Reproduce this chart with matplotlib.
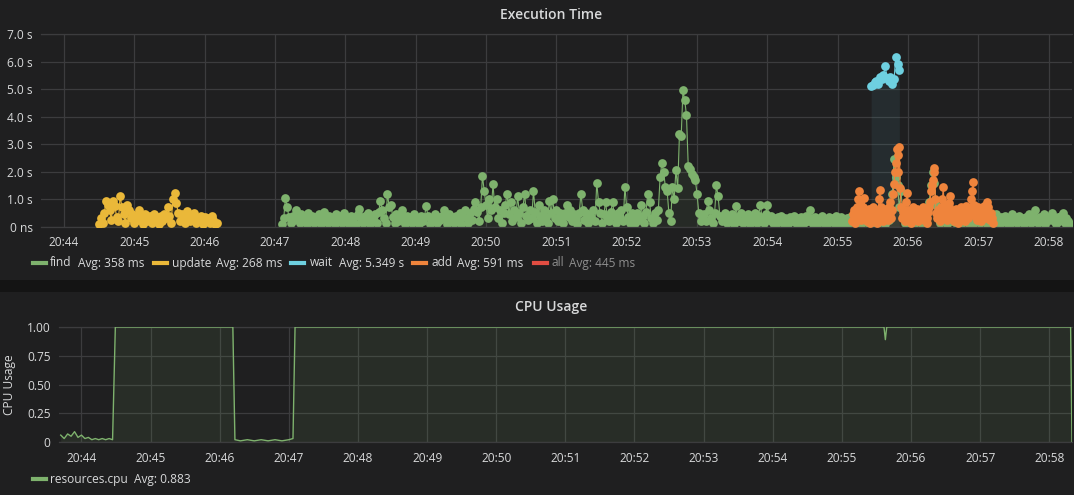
import numpy as np
import matplotlib
matplotlib.use("Agg")
import matplotlib.pyplot as plt
from matplotlib.lines import Line2D
from matplotlib.patches import Rectangle

plt.rcParams["font.family"] = ["Open Sans", "DejaVu Sans"]

# time is minutes past 20:00; each query series is sampled on a fixed clock
find_start, find_step = 47.10, 0.025
find_s = [
    # 20:47
    0.1, 0.3, 1.05, 0.7, 0.35, 0.15, 0.4, 0.25, 0.6, 0.3, 0.12, 0.45, 0.2, 0.35, 0.1, 0.5, 0.25, 0.4, 0.15, 0.35,
    0.2, 0.45, 0.1, 0.3, 0.55, 0.25, 0.12, 0.4, 0.2, 0.35, 0.1, 0.45, 0.25, 0.4, 0.15, 0.5, 0.2, 0.35, 0.1, 0.4,
    # 20:48
    0.2, 0.35, 0.1, 0.45, 0.65, 0.3, 0.15, 0.4, 0.2, 0.5, 0.1, 0.35, 0.25, 0.45, 0.15, 0.55, 0.95, 0.6, 0.3, 0.15,
    1.2, 0.7, 0.8, 0.35, 0.12, 0.45, 0.2, 0.4, 0.6, 0.25, 0.1, 0.4, 0.2, 0.35, 0.12, 0.45, 0.25, 0.3, 0.1, 0.4,
    # 20:49
    0.2, 0.35, 0.75, 0.4, 0.1, 0.3, 0.2, 0.45, 0.12, 0.35, 0.25, 0.4, 0.6, 0.3, 0.1, 0.45, 0.2, 0.35, 0.15, 0.4,
    0.25, 0.5, 0.1, 0.35, 0.6, 0.3, 0.15, 0.5, 0.25, 0.65, 0.9, 0.55, 0.2, 0.7, 1.85, 1.3, 0.8, 0.3, 1.0, 0.6,
    # 20:50
    1.55, 0.7, 1.0, 0.3, 0.6, 0.15, 0.5, 0.8, 1.2, 0.45, 0.9, 0.2, 0.6, 0.35, 1.1, 0.5, 0.15, 0.7, 1.2, 0.4,
    0.25, 0.6, 0.3, 1.3, 0.55, 0.15, 0.8, 0.4, 0.2, 0.6, 0.35, 0.15, 0.95, 0.5, 1.0, 0.3, 0.6, 0.2, 0.5, 0.35,
    # 20:51
    0.15, 0.5, 0.8, 0.35, 0.6, 0.2, 0.45, 0.3, 0.1, 0.5, 1.2, 0.6, 0.25, 0.5, 0.15, 0.4, 0.3, 0.6, 0.2, 1.6,
    0.9, 0.5, 0.15, 0.45, 0.9, 0.35, 0.2, 0.55, 0.9, 0.4, 0.15, 0.5, 0.3, 0.6, 0.2, 1.45, 0.7, 0.35, 0.15, 0.5,
    # 20:52
    0.3, 0.15, 0.5, 0.25, 0.8, 0.4, 0.15, 0.55, 1.2, 0.9, 0.3, 0.15, 0.5, 0.25, 0.6, 1.8, 2.3, 2.0, 1.45, 1.3,
    0.5, 0.2, 1.45, 1.0, 2.05, 1.4, 3.35, 3.3, 4.95, 4.6, 4.05, 2.2, 2.1, 1.9, 1.8, 1.7, 1.2, 0.5, 0.2, 0.4,
    # 20:53
    0.45, 0.2, 0.95, 0.6, 0.3, 0.15, 0.5, 1.5, 1.1, 0.4, 0.2, 0.35, 0.5, 0.15, 0.4, 0.25, 0.45, 0.1, 0.75, 0.35,
    0.2, 0.5, 0.15, 0.4, 0.3, 0.45, 0.1, 0.35, 0.25, 0.5, 0.15, 0.4, 0.8, 0.3, 0.15, 0.45, 0.8, 0.25, 0.4, 0.12,
    # 20:54
    0.3, 0.1, 0.35, 0.2, 0.4, 0.12, 0.3, 0.25, 0.1, 0.35, 0.2, 0.4, 0.15, 0.3, 0.1, 0.35, 0.25, 0.12, 0.4, 0.2,
    0.6, 0.3, 0.1, 0.35, 0.2, 0.12, 0.3, 0.4, 0.15, 0.25, 0.1, 0.35, 0.2, 0.3, 0.12, 0.4, 0.2, 0.1, 0.35, 0.25,
    # 20:55
    0.15, 0.3, 0.1, 0.35, 0.2, 0.4, 0.12, 0.3, 0.25, 0.1, 0.35, 0.2, 0.4, 0.15, 0.3, 0.1, 0.35, 0.2, 0.3, 0.12,
    0.4, 0.2, 0.3, 0.1, 0.35, 0.25, 0.6, 1.2, 2.45, 1.8, 1.5, 0.7, 1.3, 0.4, 0.15, 0.35, 0.2, 0.1, 0.4, 0.25,
    # 20:56
    0.15, 0.35, 0.2, 0.4, 0.1, 0.3, 0.25, 0.5, 0.9, 1.5, 2.0, 1.6, 0.8, 0.3, 0.15, 0.4, 0.2, 0.35, 0.1, 0.3,
    0.45, 0.2, 0.35, 0.12, 0.4, 0.25, 0.1, 0.35, 0.2, 0.3, 0.15, 0.4, 0.2, 0.1, 0.35, 0.25, 0.4, 0.12, 0.3, 0.2,
    # 20:57
    0.35, 0.1, 0.4, 0.2, 0.3, 0.12, 0.45, 0.25, 0.1, 0.35, 0.2, 0.4, 0.15, 0.3, 0.1, 0.45, 0.25, 0.35, 0.12, 0.4,
    0.2, 0.3, 0.1, 0.35, 0.25, 0.45, 0.15, 0.4, 0.6, 0.3, 0.12, 0.35, 0.2, 0.45, 0.1, 0.3, 0.25, 0.4, 0.5, 0.2,
    # 20:58
    0.1, 0.35, 0.2, 0.4, 0.5, 0.15, 0.3, 0.2, 0.1,
]

update_start, update_step = 44.50, 0.025
update_s = [
    0.1, 0.3, 0.15, 0.5, 0.95, 0.8, 0.6, 0.25, 0.95, 0.75, 0.35, 0.2, 1.13, 0.7, 0.45, 0.15, 0.8, 0.6, 0.3, 0.45,
    0.15, 0.4, 0.25, 0.6, 0.35, 0.1, 0.45, 0.2, 0.35, 0.4, 0.15, 0.45, 0.25, 0.35, 0.1, 0.4, 0.2, 0.45, 0.3, 0.7,
    0.4, 0.15, 1.0, 1.24, 0.85, 0.5, 0.2, 0.45, 0.3, 0.15, 0.58, 0.35, 0.2, 0.4, 0.5, 0.15, 0.3, 0.25, 0.4, 0.1,
    0.35, 0.2, 0.3, 0.15, 0.4, 0.25, 0.1, 0.15,
]

wait_start, wait_step = 55.475, 0.025
wait_s = [5.1, 5.15, 5.25, 5.3, 5.2, 5.45, 5.35, 5.5, 5.85, 5.4, 5.3, 5.45, 5.2, 5.35, 6.15, 5.9, 5.7]

add_start, add_step = 55.20, 0.0125
add_s = [
    0.2, 0.45, 0.3, 0.6, 0.15, 0.5, 0.7, 1.0, 1.3, 0.8, 0.4, 0.25, 0.55, 0.7, 1.03, 0.6, 0.35, 0.2, 0.5, 0.65,
    0.3, 0.15, 0.55, 0.4, 0.7, 0.25, 0.5, 0.6, 0.3, 0.15, 0.45, 1.0, 1.35, 0.7, 0.4, 0.6, 0.2, 0.5, 0.35, 0.65,
    0.45, 0.25, 0.7, 0.9, 0.5, 0.3, 0.6, 1.2, 1.56, 2.0, 2.3, 2.84, 2.6, 2.0, 2.9, 1.4, 0.7, 0.3, 0.55, 0.4,
    0.2, 0.6, 0.9, 1.23, 0.6, 0.35, 0.5, 0.15, 0.6, 0.4, 0.7, 0.25, 0.5, 0.35, 0.65, 0.2, 0.45, 0.6, 0.3, 0.55,
    0.4, 0.7, 0.25, 0.5, 0.6, 0.3, 0.15, 0.55, 0.7, 0.9, 1.3, 1.5, 1.7, 2.13, 2.0, 1.0, 0.5, 0.3, 0.6, 0.4,
    0.2, 0.55, 0.7, 1.0, 1.43, 0.8, 0.4, 0.6, 0.25, 0.5, 0.7, 0.85, 1.1, 0.6, 0.35, 0.55, 0.2, 0.45, 0.65, 0.3,
    0.5, 0.15, 0.6, 0.4, 0.7, 0.25, 0.55, 0.35, 0.6, 0.2, 0.75, 0.5, 0.3, 0.6, 0.45, 0.7, 1.0, 1.3, 1.62, 0.8,
    0.4, 0.6, 0.25, 0.5, 0.7, 0.35, 0.55, 0.2, 0.65, 0.4, 0.75, 0.5, 0.3, 0.6, 0.88, 0.7, 0.45, 0.25, 0.5, 0.3,
    0.15,
]

cpu_t = [43.70, 43.75, 43.80, 43.85, 43.90, 43.95, 44.00, 44.05, 44.10, 44.15, 44.20, 44.25, 44.30, 44.35,
         44.40, 44.45, 44.49, 46.19, 46.22, 46.30, 46.40, 46.50, 46.60, 46.70, 46.80, 46.90, 47.00, 47.06,
         47.09, 55.61, 55.63, 55.65, 58.31, 58.33]
cpu_v = [0.06, 0.03, 0.07, 0.05, 0.09, 0.04, 0.06, 0.03, 0.04, 0.02, 0.03, 0.02, 0.03, 0.02, 0.03, 0.02,
         1.0, 1.0, 0.02, 0.01, 0.02, 0.01, 0.02, 0.01, 0.02, 0.01, 0.02, 0.03, 1.0, 1.0, 0.89, 1.0, 1.0, 0.0]

minutes = list(range(44, 59))
time_labels = [f"20:{m:02d}" for m in minutes]
exec_ticks = [0, 1, 2, 3, 4, 5, 6, 7]
exec_labels = ["0 ns", "1.0 s", "2.0 s", "3.0 s", "4.0 s", "5.0 s", "6.0 s", "7.0 s"]
cpu_ticks = [0, 0.25, 0.5, 0.75, 1.0]
cpu_labels = ["0", "0.25", "0.50", "0.75", "1.00"]

legend_names = ["find", "update", "wait", "add", "all"]
legend_avgs = ["Avg: 358 ms", "Avg: 268 ms", "Avg: 5.349 s", "Avg: 591 ms", "Avg: 445 ms"]
cpu_name, cpu_avg = "resources.cpu", "Avg: 0.883"

# grafana dark theme
BG = "#1f1f20"
GAP = "#141414"
GRID = "#3c3c3e"
TXT = "#d8d9da"
GREEN, YELLOW, CYAN, ORANGE, RED = "#7eb26d", "#eab839", "#6ed0e0", "#ef843c", "#e24d42"
W, H = 1074, 495


def fx(px):
    return px / W


def fy(py):
    return 1 - py / H


def style_axes(ax, yticks, ylabels):
    ax.set_facecolor(BG)
    ax.set_xlim(43.675, 58.33)
    ax.set_xticks(minutes)
    ax.set_xticklabels(time_labels)
    ax.set_yticks(yticks)
    ax.set_yticklabels(ylabels)
    ax.set_ylim(yticks[0], yticks[-1])
    ax.grid(True, color=GRID, lw=0.9)
    ax.set_axisbelow(True)
    for side in ("left", "right"):
        ax.spines[side].set_visible(False)
    for side in ("top", "bottom"):
        ax.spines[side].set_color(GRID)
        ax.spines[side].set_linewidth(0.9)
    ax.tick_params(length=0, colors=TXT, labelsize=8.6)
    ax.tick_params(axis="y", pad=6)
    ax.tick_params(axis="x", pad=7)


fig = plt.figure(figsize=(W / 100, H / 100), dpi=100, facecolor=BG)
fig.patches.append(Rectangle((0, fy(292)), 1, fy(280) - fy(292), transform=fig.transFigure,
                             facecolor=GAP, edgecolor="none", zorder=0))

# --- Execution Time panel
ax1 = fig.add_axes([fx(41), fy(226.7), fx(1072) - fx(41), fy(34) - fy(226.7)])
style_axes(ax1, exec_ticks, exec_labels)
series = [(find_start, find_step, find_s, GREEN), (update_start, update_step, update_s, YELLOW),
          (wait_start, wait_step, wait_s, CYAN), (add_start, add_step, add_s, ORANGE)]
for z, (t0, dt, vals, col) in enumerate(series):
    t = t0 + dt * np.arange(len(vals))
    ax1.fill_between(t, vals, color=col, alpha=0.08, lw=0, zorder=2 + z)
    ax1.plot(t, vals, color=col, lw=0.8, marker="o", ms=6.3, mew=0, zorder=2 + z)

fig.text(fx(551), fy(15), "Execution Time", color=TXT, fontsize=10, fontweight="semibold",
         ha="center", va="center")

leg_cols = [GREEN, YELLOW, CYAN, ORANGE, RED]
dash_x = [33, 154, 291, 413, 534]
name_x = [50, 172, 310, 431, 551]
avg_x = [78, 216, 339, 457, 569]
for name, avg, col, dx, nx, axx in zip(legend_names, legend_avgs, leg_cols, dash_x, name_x, avg_x):
    fig.add_artist(Line2D([fx(dx), fx(dx + 13)], [fy(263), fy(263)], color=col, lw=3,
                          transform=fig.transFigure))
    tc = "#8e8e8e" if name == "all" else TXT
    fig.text(fx(nx), fy(263), name, color=tc, fontsize=8.6, ha="left", va="center")
    fig.text(fx(axx), fy(263), avg, color=tc, fontsize=8.6, ha="left", va="center")

# --- CPU Usage panel
ax2 = fig.add_axes([fx(59), fy(442), fx(1072) - fx(59), fy(327) - fy(442)])
style_axes(ax2, cpu_ticks, cpu_labels)
ax2.fill_between(cpu_t, cpu_v, color=GREEN, alpha=0.1, lw=0, zorder=2)
ax2.plot(cpu_t, cpu_v, color=GREEN, lw=1, zorder=3)

fig.text(fx(551), fy(307), "CPU Usage", color=TXT, fontsize=10, fontweight="semibold",
         ha="center", va="center")
fig.text(fx(10), fy(385), "CPU Usage", color=TXT, fontsize=8.6, rotation=90, ha="center", va="center")
fig.add_artist(Line2D([fx(33), fx(46)], [fy(479), fy(479)], color=GREEN, lw=3, transform=fig.transFigure))
fig.text(fx(50), fy(479), cpu_name, color=TXT, fontsize=8.6, ha="left", va="center")
fig.text(fx(134), fy(479), cpu_avg, color=TXT, fontsize=8.6, ha="left", va="center")

fig.savefig("out.png", dpi=100, facecolor=BG)
